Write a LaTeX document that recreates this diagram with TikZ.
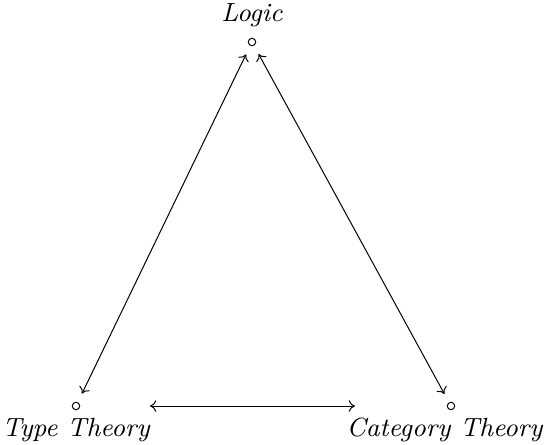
\documentclass[tikz,border=0pt]{standalone}
\usetikzlibrary{arrows.meta}
\begin{document}
\begin{tikzpicture}[x=0.35pt,y=-0.35pt,
  dot/.style={circle,draw,line width=0.35pt,inner sep=0pt,minimum size=2.6pt},
  lbl/.style={inner sep=0pt,font=\fontsize{9.2}{11}\selectfont\itshape},
  arr/.style={{To[length=2.2pt,width=4pt]}-{To[length=2.2pt,width=4pt]},line width=0.35pt}]
\useasboundingbox (0,0) rectangle (545,445);
\node[dot] (l) at (252,42) {};
\node[dot] (t) at (76,406) {};
\node[dot] (c) at (451,406) {};
\node[lbl] (ll) at (252,15) {Logic};
\node[lbl] (tl) at (76,430) {Type Theory};
\node[lbl,anchor=east] (cl) at (543,430) {Category Theory};
\draw[arr,shorten <=9.5pt*0.35,shorten >=9.5pt*0.35] (l) -- (t);
\draw[arr,shorten <=9.5pt*0.35,shorten >=9.5pt*0.35] (l) -- (c);
\coordinate (h1) at (150,406);
\coordinate (h2) at (355,406);
\draw[arr] (h1) -- (h2);
\end{tikzpicture}
\end{document}
